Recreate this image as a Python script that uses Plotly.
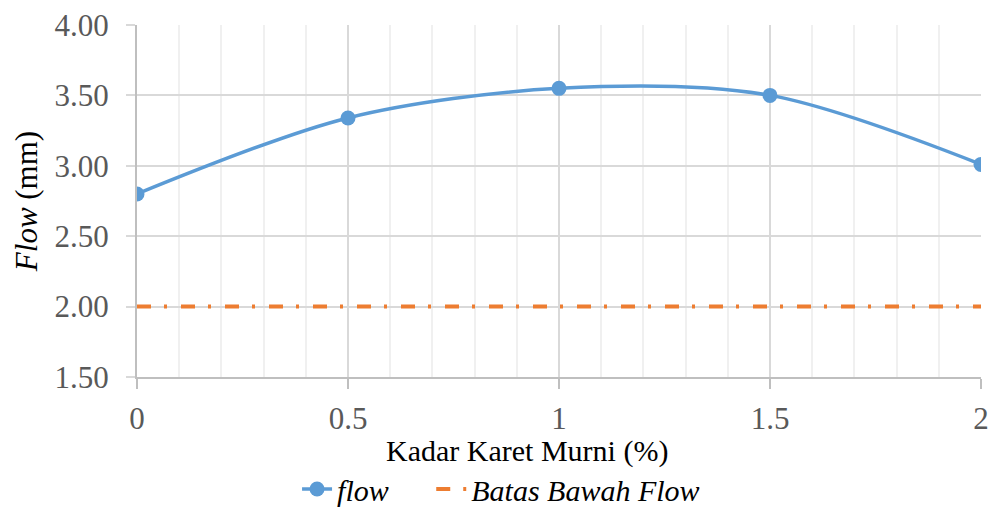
import plotly.graph_objects as go

kadar = [0, 0.5, 1, 1.5, 2]
flow = [2.80, 3.34, 3.55, 3.50, 3.01]
batas = [2.00, 2.00, 2.00, 2.00, 2.00]

FONT = "'Liberation Serif', 'Times New Roman', Times, serif"
NB = "\u00a0"

fig = go.Figure()
fig.add_trace(go.Scatter(
    x=kadar, y=flow, name="<i>flow</i>" + NB * 5, mode="lines+markers",
    line=dict(color="#5B9BD5", width=3.5, shape="spline", smoothing=0.9),
    marker=dict(color="#5B9BD5", size=15),
))
fig.add_trace(go.Scatter(
    x=kadar, y=batas, name="<i>Batas Bawah Flow</i>", mode="lines",
    line=dict(color="#ED7D31", width=4, dash="14px,13px,3px,14px"),
))

fig.add_annotation(
    text="Kadar Karet Murni (%)", xref="paper", yref="paper",
    x=(527 - 137) / 844, y=-(451 - 377) / 352, xanchor="center", yanchor="middle",
    showarrow=False, font=dict(family=FONT, size=30, color="black"),
)

fig.update_layout(
    width=991, height=507,
    margin=dict(l=137, r=10, t=25, b=130),
    plot_bgcolor="white", paper_bgcolor="white",
    font=dict(family=FONT, size=31, color="black"),
    showlegend=True,
    legend=dict(orientation="h", xref="container", x=0.5056, xanchor="center",
                yref="container", y=(507 - 489) / 507, yanchor="middle",
                font=dict(family=FONT, size=30, color="black"),
                bgcolor="rgba(0,0,0,0)", tracegroupgap=0),
    xaxis=dict(
        range=[0, 2], dtick=0.5, tick0=0, automargin=False,
        showgrid=True, gridcolor="#D9D9D9", gridwidth=1.5,
        minor=dict(dtick=0.1, showgrid=True, gridcolor="#F0F0F0", gridwidth=1.5),
        showline=True, linecolor="#BFBFBF", linewidth=2,
        ticks="outside", ticklen=10, tickcolor="#BFBFBF", tickwidth=2,
        ticklabelstandoff=3,
        tickfont=dict(family=FONT, size=31, color="#595959"),
        zeroline=False,
    ),
    yaxis=dict(
        range=[1.5, 4.0], dtick=0.5, tick0=1.5, tickformat=".2f", automargin=False,
        showgrid=True, gridcolor="#D9D9D9", gridwidth=1.5,
        showline=True, linecolor="#BFBFBF", linewidth=2,
        ticks="outside", ticklen=9, tickcolor="#D9D9D9", tickwidth=1.5,
        ticklabelstandoff=11,
        tickfont=dict(family=FONT, size=31, color="#595959"),
        title=dict(text="<i>Flow</i> (mm)", font=dict(family=FONT, size=31, color="black"), standoff=8),
        zeroline=False,
    ),
)

fig.write_html("out.html")
